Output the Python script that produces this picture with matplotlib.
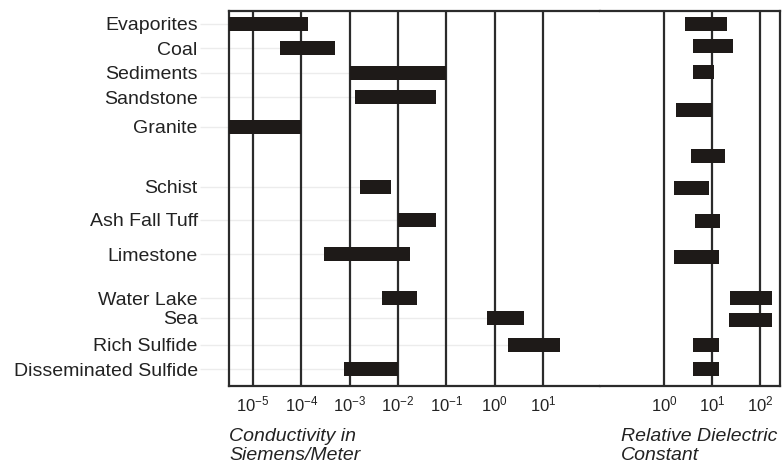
import numpy as np
import matplotlib
matplotlib.use("Agg")
import matplotlib.pyplot as plt

plt.rcParams["font.family"] = ["Liberation Sans", "DejaVu Sans"]

# ============================================================
#   DATA — ranges
# ============================================================
materials = ["Evaporites", "Coal", "Sediments", "Sandstone", "Granite",
             "Schist", "Ash Fall Tuff", "Limestone", "Water Lake", "Sea",
             "Rich Sulfide", "Disseminated Sulfide"]

# conductivity, Siemens/Meter (low, high)
cond_low = [3e-6, 3.6e-5, 1e-3, 1.3e-3, 3e-6,
            1.6e-3, 1e-2, 3e-4, 4.7e-3, 0.7,
            1.9, 7.8e-4]
cond_high = [1.4e-4, 5e-4, 1e-1, 6e-2, 1e-4,
             7e-3, 6e-2, 1.8e-2, 2.5e-2, 4.0,
             22, 1e-2]

# relative dielectric constant (low, high)
diel_low = [2.8, 4.0, 4.0, 1.8, 3.6,
            1.6, 4.4, 1.6, 23.6, 22.4,
            4.1, 4.1]
diel_high = [20.4, 27, 11, 10, 18.6,
             8.6, 14.5, 13.8, 182, 174,
             13.8, 13.8]

cond_ticks = [1e-5, 1e-4, 1e-3, 1e-2, 1e-1, 1e0, 1e1]
diel_ticks = [1e0, 1e1, 1e2]

# row layout (in row units, top row = 0)
cond_rows = [0, 1, 2, 3, 4.2, 6.65, 8, 9.4, 11.2, 12, 13.1, 14.1]
diel_rows = [0, 0.9, 1.95, 3.5, 5.4, 6.7, 8.05, 9.5, 11.2, 12.1, 13.1, 14.1]


# ============================================================
#   FIGURE
# ============================================================
W, H = 782, 463
fig = plt.figure(figsize=(W / 100, H / 100), dpi=100)

top = 1 - 11 / H
bottom = 1 - 386 / H
split = 600 / W
ax1 = fig.add_axes([229 / W, bottom, split - 229 / W, top - bottom])
ax2 = fig.add_axes([split, bottom, 780 / W - split, top - bottom], sharey=ax1)

bar_col = "#1e1a18"
line_col = "#2b2b2b"
bar_h = 0.57


def tick_label(v):
    return r"$\mathregular{10^{%d}}$" % int(round(np.log10(v)))


for ax, ticks in [(ax1, cond_ticks), (ax2, diel_ticks)]:
    ax.set_xscale("log")
    ax.set_xticks(ticks)
    ax.set_xticklabels([tick_label(t) for t in ticks], fontsize=12, color="#222222")
    ax.minorticks_off()
    ax.tick_params(axis="x", length=0, pad=6)
    for t in ticks:
        ax.axvline(t, color=line_col, lw=1.6, zorder=1)
    for s in ax.spines.values():
        s.set_color(line_col)
        s.set_linewidth(1.6)

ax1.set_xlim(10 ** -5.497, 10 ** 2.179)
ax2.set_xlim(10 ** -1.333, 10 ** 2.417)
ax1.set_ylim(14.78, -0.53)

ax1.spines["right"].set_visible(False)
ax2.spines["left"].set_visible(False)

# faint leader lines from the labels to the conductivity bars
ax1.hlines(cond_rows, ax1.get_xlim()[0], cond_low, color="#ececec", lw=1.0, zorder=0)

ax1.barh(cond_rows, np.array(cond_high) - np.array(cond_low), left=cond_low,
         height=bar_h, color=bar_col, zorder=3)
ax2.barh(diel_rows, np.array(diel_high) - np.array(diel_low), left=diel_low,
         height=bar_h, color=bar_col, zorder=3)

ax1.set_yticks(cond_rows)
ax1.set_yticklabels(materials, fontsize=14, color="#222222")
ax1.tick_params(axis="y", length=21, width=1.0, color="#ececec", pad=1.5)
ax2.tick_params(axis="y", left=False, labelleft=False)

fig.text(229 / W, 1 - 428 / H, "Conductivity in\nSiemens/Meter", fontsize=14,
         style="italic", color="#222222", va="top", ha="left", linespacing=1.15)
fig.text(621 / W, 1 - 428 / H, "Relative Dielectric\nConstant", fontsize=14,
         style="italic", color="#222222", va="top", ha="left", linespacing=1.15)

plt.savefig("out.png", dpi=100)
plt.close()
